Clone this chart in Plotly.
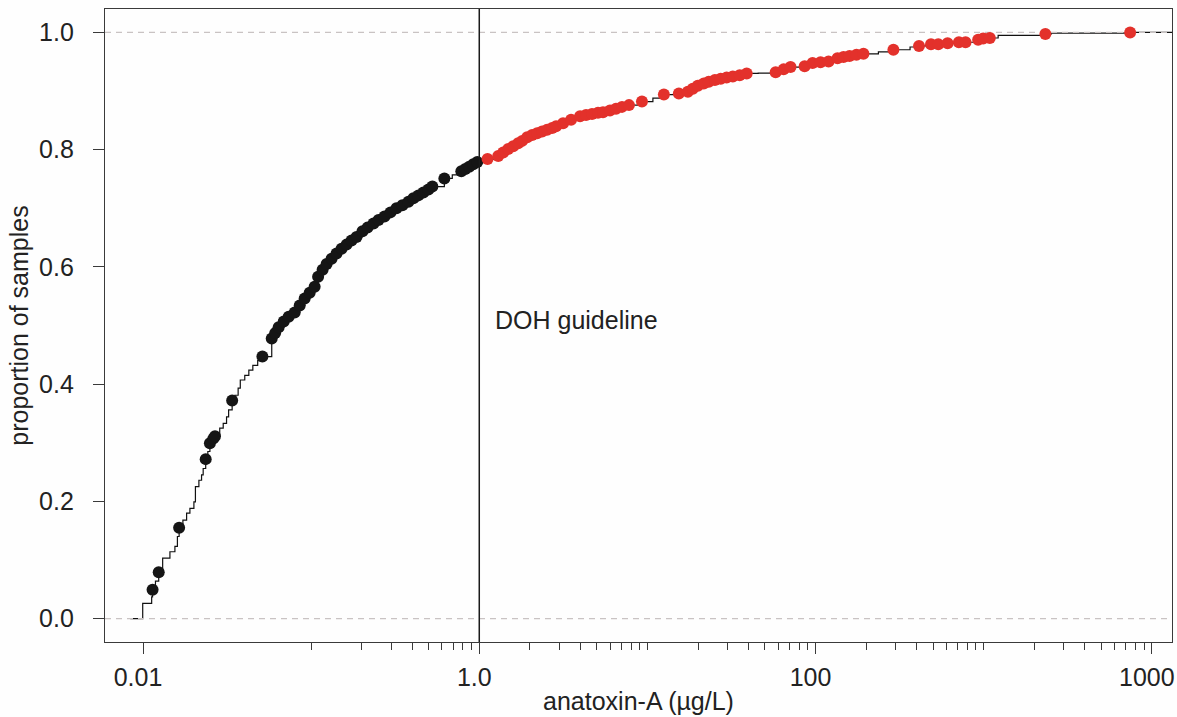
import plotly.graph_objects as go

# ---------------- data ----------------
# samples at or below the DOH guideline (black points)
black_x = [0.0114, 0.0124, 0.0164, 0.0236, 0.0250, 0.0262, 0.0268, 0.0339, 0.0513,
           0.0583, 0.0611, 0.0641, 0.0687, 0.0735, 0.0798, 0.0855, 0.0915, 0.0980, 0.1049,
           0.110, 0.117, 0.1236, 0.1323, 0.1416, 0.1517, 0.1624, 0.1739, 0.1862,
           0.202, 0.2164, 0.2349, 0.2516, 0.273, 0.2963, 0.3217, 0.349, 0.379,
           0.4057, 0.4345, 0.4653, 0.4982, 0.526, 0.6199, 0.782, 0.826, 0.872, 0.921, 0.973]
black_y = [0.049, 0.079, 0.155, 0.272, 0.299, 0.307, 0.311, 0.372, 0.447,
           0.478, 0.487, 0.497, 0.507, 0.515, 0.522, 0.534, 0.546, 0.556, 0.566,
           0.583, 0.595, 0.605, 0.614, 0.623, 0.631, 0.638, 0.645, 0.651,
           0.661, 0.667, 0.674, 0.680, 0.686, 0.693, 0.700, 0.705, 0.711,
           0.717, 0.722, 0.727, 0.732, 0.737, 0.751, 0.763, 0.767, 0.771, 0.775, 0.779]

# samples above the DOH guideline (red points)
red_x = [1.12, 1.297, 1.388, 1.486, 1.591, 1.704, 1.800, 1.928, 2.063, 2.209, 2.365, 2.533,
         2.712, 2.864, 3.151, 3.516, 3.976, 4.315, 4.684, 5.084, 5.444, 5.99, 6.505, 7.06,
         7.77, 9.28, 12.53, 15.38, 17.4, 18.62, 19.94, 21.64, 23.17, 25.2, 27.3, 29.6, 32.2,
         35.4, 38.95, 57.9, 64.6, 71.0, 86.1, 96.0, 107.1, 119.5, 135.1, 146.6, 159.2, 175.1,
         192.7, 290.4, 412.5, 486, 537, 610, 712, 780, 927, 993, 1088, 2327, 7431]
red_y = [0.784, 0.789, 0.795, 0.801, 0.806, 0.811, 0.815, 0.821, 0.825, 0.828, 0.831, 0.834,
         0.837, 0.840, 0.845, 0.851, 0.857, 0.859, 0.861, 0.863, 0.864, 0.867, 0.870, 0.873,
         0.876, 0.882, 0.894, 0.896, 0.899, 0.904, 0.909, 0.913, 0.916, 0.919, 0.921, 0.923,
         0.925, 0.927, 0.930, 0.932, 0.937, 0.941, 0.9425, 0.948, 0.949, 0.9505, 0.956, 0.958,
         0.960, 0.962, 0.9636, 0.9705, 0.977, 0.980, 0.980, 0.9815, 0.9833, 0.9833, 0.9875,
         0.9898, 0.9905, 0.9972, 1.0]

# further steps of the cumulative curve that carry no point
step_x = [0.00996, 0.01126, 0.01186, 0.01309, 0.01446, 0.01548, 0.01602, 0.01727, 0.01817,
          0.01901, 0.02008, 0.0205, 0.0215, 0.0223, 0.0228, 0.0243, 0.0286, 0.0300, 0.0314,
          0.0323, 0.0352, 0.0368, 0.0379, 0.0403, 0.0426, 0.0450, 0.0481, 0.691, 10.78, 45.6,
          236.5, 364.8, 1219, 2516]
step_y = [0.026, 0.037, 0.064, 0.103, 0.114, 0.123, 0.140, 0.168, 0.180, 0.188, 0.199, 0.225,
          0.236, 0.245, 0.256, 0.285, 0.325, 0.333, 0.344, 0.356, 0.381, 0.393, 0.407, 0.415,
          0.424, 0.432, 0.440, 0.757, 0.888, 0.9307, 0.967, 0.9752, 0.995, 0.9989]

curve_start = 0.0084          # left end of the curve at proportion 0
guideline = 1.0               # DOH guideline (µg/L)

x_tickvals = [0.01, 1, 100, 10000]
x_ticktext = ["0.01", "1.0", "100", "1000"]
y_tickvals = [0.0, 0.2, 0.4, 0.6, 0.8, 1.0]
y_ticktext = ["0.0", "0.2", "0.4", "0.6", "0.8", "1.0"]
minor_ticks = [m * 10.0 ** e for e in range(-1, 4) for m in range(1, 10)
               if not (m == 1 and e in (0, 2))]

LOG_XRANGE = [-2.226, 4.12]
YRANGE = [-0.04, 1.04]
x_lo, x_hi = 10 ** LOG_XRANGE[0], 10 ** LOG_XRANGE[1]

# ---------------- build figure ----------------
pts = sorted(zip(step_x + black_x + red_x, step_y + black_y + red_y))
line_x = [curve_start] + [p[0] for p in pts] + [x_hi]
line_y = [0.0] + [p[1] for p in pts] + [pts[-1][1]]

FONT = "Arial, Liberation Sans, Helvetica, sans-serif"
AX = "#3a3a3a"
FS = 25

fig = go.Figure()
fig.add_trace(go.Scatter(x=line_x, y=line_y, mode="lines", line_shape="hv",
                         line=dict(color="#111111", width=1.2), hoverinfo="skip",
                         showlegend=False, cliponaxis=True))
for yv in (0.0, 1.0):
    fig.add_trace(go.Scatter(x=[x_lo, x_hi], y=[yv, yv], mode="lines",
                             line=dict(color="#c9c3c3", width=1.3, dash="6px,5px"),
                             hoverinfo="skip", showlegend=False))
fig.add_trace(go.Scatter(x=black_x, y=black_y, mode="markers",
                         marker=dict(color="#151515", size=12, line=dict(width=0)),
                         showlegend=False))
fig.add_trace(go.Scatter(x=red_x, y=red_y, mode="markers",
                         marker=dict(color="#e3312b", size=12, line=dict(width=0)),
                         showlegend=False))

fig.add_shape(type="line", xref="x", yref="paper", x0=guideline, x1=guideline, y0=0, y1=1,
              line=dict(color="#1a1a1a", width=1.5), layer="above")
fig.add_annotation(x=0, xref="x", y=0.51, yref="y", text="DOH guideline", showarrow=False,
                   xanchor="left", yanchor="middle", xshift=14,
                   font=dict(family=FONT, size=FS, color="#222222"))

fig.update_layout(
    width=1177, height=717,
    margin=dict(l=105, r=5, t=9, b=75),
    paper_bgcolor="#fefefe", plot_bgcolor="#fefefe",
    font=dict(family=FONT, size=FS, color="#222222"),
    xaxis=dict(type="log", range=LOG_XRANGE, tickmode="array", tickvals=x_tickvals,
               ticktext=x_ticktext, ticks="outside", ticklen=11, tickwidth=1.3, tickcolor=AX,
               showline=True, linecolor=AX, linewidth=1.3, mirror=True, showgrid=False,
               zeroline=False, automargin=False, ticklabelstandoff=2,
               ticklabeloverflow="allow", ticklabelshift=-5,
               minor=dict(tickmode="array", tickvals=minor_ticks, ticks="outside", ticklen=7,
                          tickwidth=1.2, tickcolor=AX, showgrid=False),
               title=dict(text="anatoxin-A (\u00b5g/L)", standoff=2,
                          font=dict(family=FONT, size=FS))),
    yaxis=dict(range=YRANGE, tickmode="array", tickvals=y_tickvals, ticktext=y_ticktext,
               ticks="outside", ticklen=11, tickwidth=1.3, tickcolor=AX,
               showline=True, linecolor=AX, linewidth=1.3, mirror=True, showgrid=False,
               zeroline=False, ticklabelstandoff=14, automargin=False,
               title=dict(text="proportion of samples", standoff=3,
                          font=dict(family=FONT, size=FS))),
)

fig.write_html("out.html", config={"displayModeBar": False},
               post_script="document.body.style.margin='0';"
                           "document.body.style.overflow='hidden';")
